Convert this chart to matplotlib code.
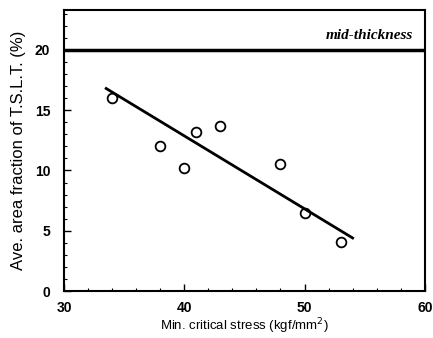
import matplotlib
matplotlib.use("Agg")
import matplotlib.pyplot as plt
from matplotlib.ticker import MultipleLocator

# data
stress = [34, 38, 40, 41, 43, 48, 50, 53]
fraction = [16.0, 12.0, 10.2, 13.2, 13.7, 10.5, 6.5, 4.1]
fit_x = [33.5, 54]
fit_y = [16.8, 4.4]
mid_level = 20

plt.rcParams['font.family'] = ['Liberation Sans', 'DejaVu Sans']

fig = plt.figure(figsize=(4.33, 3.38), dpi=100)
ax = fig.add_axes([0.148, 0.139, 0.833, 0.831])

ax.plot(stress, fraction, 'o', mfc='white', mec='black', ms=7, mew=1.3)
ax.plot(fit_x, fit_y, color='black', linewidth=2)
ax.axhline(mid_level, color='black', linewidth=2.5)
ax.text(59, 21.2, 'mid-thickness', ha='right', va='center', fontsize=11,
        style='italic', fontweight='bold', family=['Liberation Serif', 'DejaVu Serif'])

ax.set_xlim(30, 60)
ax.set_ylim(0, 23.3)
ax.set_xticks([30, 40, 50, 60])
ax.set_yticks([0, 5, 10, 15, 20])
ax.xaxis.set_minor_locator(MultipleLocator(2))
ax.yaxis.set_minor_locator(MultipleLocator(1))
ax.tick_params(which='both', direction='in', top=False, right=False, labelsize=10)
ax.tick_params(axis='x', which='major', pad=7)
ax.tick_params(axis='y', which='major', pad=10)
ax.tick_params(which='major', length=5, width=1)
ax.tick_params(which='minor', length=2.5, width=0.8)
for lab in ax.get_xticklabels() + ax.get_yticklabels():
    lab.set_fontweight('bold')
for s in ax.spines.values():
    s.set_linewidth(1.5)

ax.set_xlabel('Min. critical stress (kgf/mm$^2$)', fontsize=9.5, labelpad=1)
ax.set_ylabel('Ave. area fraction of T.S.L.T. (%)', fontsize=12, labelpad=6)

fig.savefig('out.png', dpi=100)
